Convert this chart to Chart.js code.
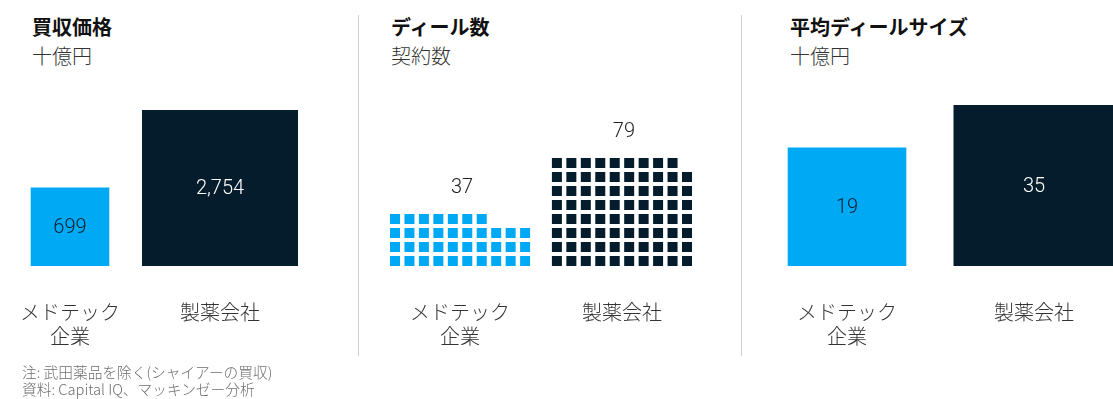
<!DOCTYPE html>
<html>
<head>
<meta charset="utf-8">
<script src="https://cdn.jsdelivr.net/npm/chart.js@4.4.1/dist/chart.umd.min.js"></script>
<style>
  html, body { margin: 0; padding: 0; background: #fff; width: 1113px; height: 399px; overflow: hidden; }
  #wrap { position: relative; width: 1113px; height: 399px; }
  canvas { position: absolute; left: 0; top: 0; }
  .t { position: absolute; top: 12px; font-family: 'Noto Sans CJK JP', sans-serif; font-size: 20px; line-height: 29px; white-space: nowrap; }
  .t b { display: block; font-weight: 700; color: #111; }
  .t span { display: block; font-weight: 300; color: #333; }
  .sep { position: absolute; top: 15px; height: 341px; width: 1px; background: #d0d0d0; }
  .note { position: absolute; left: 22px; top: 363px; font-family: 'Noto Sans CJK JP', sans-serif; font-size: 14.7px; line-height: 17px; color: #6e6e6e; font-weight: 300; white-space: nowrap; }
</style>
</head>
<body>
<div id="wrap">
  <div class="t" style="left:32px"><b>買収価格</b><span>十億円</span></div>
  <div class="t" style="left:391px"><b>ディール数</b><span>契約数</span></div>
  <div class="t" style="left:790px"><b>平均ディールサイズ</b><span>十億円</span></div>
  <div class="sep" style="left:358px"></div>
  <div class="sep" style="left:741px"></div>
  <canvas id="c1" width="1113" height="399"></canvas>
  <canvas id="c2" width="1113" height="399"></canvas>
  <canvas id="c3" width="1113" height="399"></canvas>
  <div class="note">注: 武田薬品を除く(シャイアーの買収)<br>資料: Capital IQ、マッキンゼー分析</div>
</div>
<script>
// ---- data ----
const categoryLabels = [['メドテック', '企業'], ['製薬会社']];
const dealValue = [699, 2754];   // 買収価格, 十億円
const dealCount = [37, 79];      // ディール数, 契約数
const avgDealSize = [19, 35];    // 平均ディールサイズ, 十億円
const seriesColors = ['#00A9F4', '#051C2C'];
const valueTextColors = ['#0b1e2c', '#ffffff'];
const CELLS_PER_ROW = 10;
const GROUP_GAP = 1.2;

const CJK = "'Noto Sans CJK JP', sans-serif";
const NUM_FONT = "300 20px Roboto, 'Liberation Sans', sans-serif";

function fmt(v) { return v.toLocaleString('en-US'); }

const baseX = (padding) => ({
  grid: { display: false, drawTicks: false },
  border: { display: false },
  ticks: { padding: padding, color: '#333', autoSkip: false, maxRotation: 0,
           font: { family: CJK, size: 20, weight: '300', lineHeight: 1.2 } },
  afterFit: (axis) => { axis.height = 94; axis.paddingLeft = 0; axis.paddingRight = 0; }
});

// square (area-proportional) charts
function squareChart(id, values, pad) {
  const plugin = {
    id: 'squareBars_' + id,
    afterDatasetsUpdate(chart) {
      chart.getDatasetMeta(0).data.forEach(el => { el.width = el.base - el.y; });
    },
    afterDatasetsDraw(chart) {
      const ctx = chart.ctx;
      ctx.save();
      ctx.font = NUM_FONT;
      ctx.textAlign = 'center';
      ctx.textBaseline = 'middle';
      chart.getDatasetMeta(0).data.forEach((el, i) => {
        ctx.fillStyle = valueTextColors[i];
        ctx.fillText(fmt(values[i]), el.x, (el.y + el.base) / 2 + 1);
      });
      ctx.restore();
    }
  };
  return new Chart(document.getElementById(id), {
    type: 'bar',
    data: {
      labels: categoryLabels,
      datasets: [{ data: values.map(v => Math.sqrt(v)), backgroundColor: seriesColors,
                   borderWidth: 0, clip: false, inflateAmount: 0 }]
    },
    options: {
      responsive: false, animation: false, events: [],
      layout: { padding: pad },
      plugins: { legend: { display: false }, tooltip: { enabled: false } },
      scales: {
        x: Object.assign({ offset: false }, baseX(34)),
        y: { display: false, min: 0, max: Math.sqrt(Math.max(...values)) }
      }
    },
    plugins: [plugin]
  });
}

squareChart('c1', dealValue, { left: 70, right: 1113 - 220, top: 110, bottom: 39 });
squareChart('c3', avgDealSize, { left: 847, right: 1113 - 1034, top: 105, bottom: 39 });

// waffle chart
function waffleCells(count, offset) {
  const pts = [];
  for (let i = 0; i < count; i++) {
    pts.push({ x: offset + (i % CELLS_PER_ROW), y: Math.floor(i / CELLS_PER_ROW) });
  }
  return pts;
}
const groupOffsets = [0, CELLS_PER_ROW + GROUP_GAP];
const groupCenters = groupOffsets.map(o => o + (CELLS_PER_ROW - 1) / 2);

const wafflePlugin = {
  id: 'waffleLabels',
  afterDatasetsDraw(chart) {
    const ctx = chart.ctx;
    const xs = chart.scales.x, ys = chart.scales.y;
    ctx.save();
    ctx.font = NUM_FONT;
    ctx.textAlign = 'center';
    ctx.textBaseline = 'middle';
    ctx.fillStyle = '#222';
    dealCount.forEach((c, i) => {
      const topRow = Math.floor((c - 1) / CELLS_PER_ROW);
      ctx.fillText(fmt(c), xs.getPixelForValue(groupCenters[i]) + 2, ys.getPixelForValue(topRow) - 31);
    });
    ctx.restore();
  }
};

const waffleX = baseX(39.5);
waffleX.ticks.callback = (v, i) => categoryLabels[i];

new Chart(document.getElementById('c2'), {
  type: 'scatter',
  data: {
    datasets: dealCount.map((c, i) => ({
      data: waffleCells(c, groupOffsets[i]),
      pointStyle: 'rect', pointRadius: 10 / Math.SQRT2, pointBorderWidth: 0,
      backgroundColor: seriesColors[i], borderColor: seriesColors[i], clip: false
    }))
  },
  options: {
    responsive: false, animation: false, events: [],
    layout: { padding: { left: 395, right: 1113 - 687, top: 163, bottom: 44 } },
    plugins: { legend: { display: false }, tooltip: { enabled: false } },
    scales: {
      x: Object.assign({
        type: 'linear', min: 0, max: groupOffsets[1] + CELLS_PER_ROW - 1,
        afterBuildTicks: (axis) => { axis.ticks = groupCenters.map(v => ({ value: v })); }
      }, waffleX),
      y: { display: false, min: 0, max: Math.floor((Math.max(...dealCount) - 1) / CELLS_PER_ROW) }
    }
  },
  plugins: [wafflePlugin]
});
</script>
</body>
</html>
